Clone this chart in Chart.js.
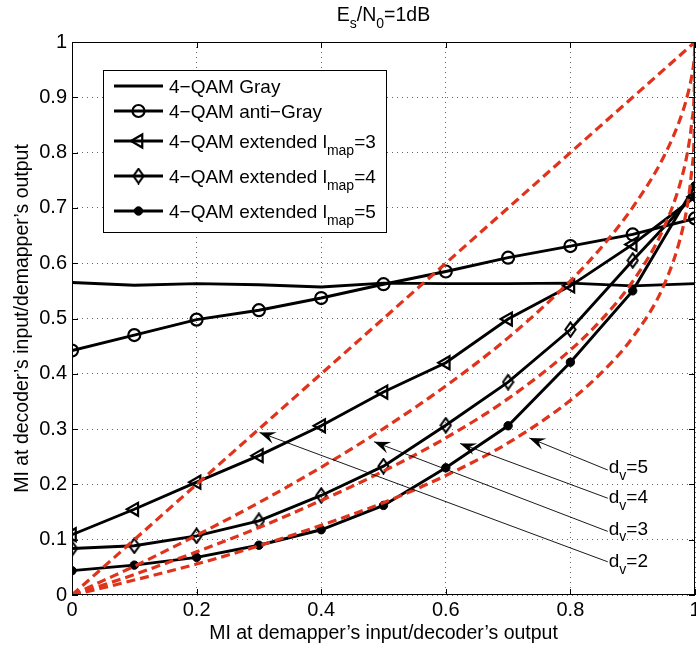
<!DOCTYPE html>
<html>
<head>
<meta charset="utf-8">
<title>EXIT chart, Es/N0 = 1 dB</title>
<script src="https://cdn.jsdelivr.net/npm/chart.js@4.4.1/dist/chart.umd.min.js"></script>
<style>
  html, body { margin: 0; padding: 0; background: #fff; }
  #box { width: 696px; height: 648px; }
</style>
</head>
<body>
<div id="box"><canvas id="exit" width="696" height="648"></canvas></div>
<script>
// Mutual information at the demapper input / decoder output (x axis)
const miApriori = [0, 0.1, 0.2, 0.3, 0.4, 0.5, 0.6, 0.7, 0.8, 0.9, 1.0];

// Demapper EXIT curves for the 4-QAM labelings
const qamGray     = [0.565, 0.560, 0.563, 0.561, 0.557, 0.564, 0.563, 0.563, 0.564, 0.559, 0.563];
const qamAntiGray = [0.442, 0.470, 0.498, 0.515, 0.537, 0.562, 0.585, 0.610, 0.631, 0.652, 0.681];
const qamExt3     = [0.109, 0.155, 0.204, 0.252, 0.306, 0.367, 0.420, 0.499, 0.559, 0.634, 0.720];
const qamExt4     = [0.084, 0.089, 0.107, 0.134, 0.180, 0.233, 0.307, 0.385, 0.480, 0.605, 0.725];
const qamExt5     = [0.044, 0.054, 0.068, 0.090, 0.118, 0.162, 0.230, 0.306, 0.421, 0.550, 0.740];

// Inverted variable-node decoder curves (degree d_v)
const vndX   = [0, 0.05, 0.1, 0.2, 0.3, 0.4, 0.5, 0.6, 0.7, 0.8, 0.85, 0.9, 0.95, 0.98, 0.99, 0.995, 0.999, 1];
const vndDv2 = [0, 0.05, 0.1, 0.2, 0.3, 0.4, 0.5, 0.6, 0.7, 0.8, 0.85, 0.9, 0.95, 0.98, 0.99, 0.995, 0.999, 1];
const vndDv3 = [0, 0.026, 0.052, 0.108, 0.167, 0.231, 0.301, 0.378, 0.465, 0.568, 0.629, 0.701, 0.793, 0.873, 0.913, 0.940, 0.975, 1];
const vndDv4 = [0, 0.018, 0.037, 0.078, 0.122, 0.171, 0.224, 0.284, 0.355, 0.443, 0.498, 0.567, 0.664, 0.760, 0.814, 0.857, 0.921, 1];
const vndDv5 = [0, 0.013, 0.027, 0.056, 0.089, 0.126, 0.167, 0.216, 0.275, 0.352, 0.402, 0.466, 0.560, 0.661, 0.721, 0.771, 0.856, 1];

// Tick values and their labels
const xTickValues = [0, 0.2, 0.4, 0.6, 0.8, 1];
const xTickLabels = ['0', '0.2', '0.4', '0.6', '0.8', '1'];
const yTickValues = [0, 0.1, 0.2, 0.3, 0.4, 0.5, 0.6, 0.7, 0.8, 0.9, 1];
const yTickLabels = ['0', '0.1', '0.2', '0.3', '0.4', '0.5', '0.6', '0.7', '0.8', '0.9', '1'];

// Legend entries: [main text, subscript, tail]
const legendEntries = [
  ['4\u2212QAM Gray', '', ''],
  ['4\u2212QAM anti\u2212Gray', '', ''],
  ['4\u2212QAM extended l', 'map', '=3'],
  ['4\u2212QAM extended l', 'map', '=4'],
  ['4\u2212QAM extended l', 'map', '=5']
];

// Annotations pointing at the decoder curves
const dvValues   = ['2', '3', '4', '5'];
const dvTipX     = [0.301, 0.485, 0.623, 0.734];
const dvTipY     = [0.294, 0.277, 0.274, 0.284];
const dvTailX    = [0.860, 0.860, 0.860, 0.860];
const dvTailY    = [0.060, 0.115, 0.175, 0.226];
const dvLabelY   = [0.063, 0.121, 0.178, 0.232];

const FONT = '"Liberation Sans", Arial, Helvetica, sans-serif';
const RED = '#e0331b';
const TICK_SIZE = 20;

function pts(xs, ys) { return xs.map((x, i) => ({ x, y: ys[i] })); }

// narrow diamond marker
function diamondMarker() {
  const c = document.createElement('canvas');
  c.width = 13; c.height = 17;
  const g = c.getContext('2d');
  g.strokeStyle = '#000'; g.lineWidth = 2;
  g.beginPath();
  g.moveTo(6.5, 1.3); g.lineTo(11.6, 8.5); g.lineTo(6.5, 15.7); g.lineTo(1.4, 8.5); g.closePath();
  g.stroke();
  return c;
}
const diamond = diamondMarker();

const curveStyle = (data) => ({
  data, showLine: true, borderColor: '#000', borderWidth: 2.9,
  pointBorderColor: '#000', pointBackgroundColor: 'rgba(0,0,0,0)', pointBorderWidth: 2.2,
  order: 2
});
const vndStyle = (data) => ({
  data, showLine: true, borderColor: RED, borderWidth: 3.2, borderDash: [9, 5],
  pointRadius: 0, cubicInterpolationMode: 'monotone', order: 1
});

const datasets = [
  Object.assign(curveStyle(pts(miApriori, qamGray)), { label: legendEntries[0][0], pointRadius: 0 }),
  Object.assign(curveStyle(pts(miApriori, qamAntiGray)), { label: legendEntries[1][0], pointStyle: 'circle', pointRadius: 6 }),
  Object.assign(curveStyle(pts(miApriori, qamExt3)), { label: 'ext3', pointStyle: 'triangle', pointRotation: -90, pointRadius: 7.5 }),
  Object.assign(curveStyle(pts(miApriori, qamExt4)), { label: 'ext4', pointStyle: diamond, pointRadius: 7 }),
  Object.assign(curveStyle(pts(miApriori, qamExt5)), { label: 'ext5', pointStyle: 'circle', pointRadius: 4.2, pointBackgroundColor: '#000', pointBorderWidth: 1 }),
  Object.assign(vndStyle(pts(vndX, vndDv2)), { label: 'dv2' }),
  Object.assign(vndStyle(pts(vndX, vndDv3)), { label: 'dv3' }),
  Object.assign(vndStyle(pts(vndX, vndDv4)), { label: 'dv4' }),
  Object.assign(vndStyle(pts(vndX, vndDv5)), { label: 'dv5' })
];

// text with subscripts: parts = [[text, isSub], ...]
function drawRich(ctx, parts, x, y, size, align) {
  const subSize = Math.round(size * 0.72);
  const widths = parts.map(([t, s]) => { ctx.font = (s ? subSize : size) + 'px ' + FONT; return ctx.measureText(t).width; });
  const total = widths.reduce((a, b) => a + b, 0);
  let cx = align === 'center' ? x - total / 2 : x;
  ctx.textAlign = 'left';
  ctx.textBaseline = 'alphabetic';
  parts.forEach(([t, s], i) => {
    ctx.font = (s ? subSize : size) + 'px ' + FONT;
    ctx.fillText(t, cx, y + (s ? size * 0.36 : 0));
    cx += widths[i];
  });
  return total;
}

function drawArrow(ctx, x1, y1, x2, y2) {
  ctx.beginPath();
  ctx.moveTo(x1, y1); ctx.lineTo(x2, y2);
  ctx.lineWidth = 0.9; ctx.stroke();
  const a = Math.atan2(y2 - y1, x2 - x1);
  const ux = Math.cos(a), uy = Math.sin(a);
  const L = 16, W = 6, N = 10;
  const bx = x2 - ux * L, by = y2 - uy * L;
  ctx.beginPath();
  ctx.moveTo(x2, y2);
  ctx.lineTo(bx - uy * W, by + ux * W);
  ctx.lineTo(x2 - ux * N, y2 - uy * N);
  ctx.lineTo(bx + uy * W, by - ux * W);
  ctx.closePath();
  ctx.fill();
}

const decorations = {
  id: 'decorations',
  beforeDraw(chart) {
    const ctx = chart.ctx;
    ctx.save(); ctx.fillStyle = '#fff'; ctx.fillRect(0, 0, chart.width, chart.height); ctx.restore();
  },
  afterDraw(chart) {
    const { ctx, chartArea: a, scales: { x, y } } = chart;
    ctx.save();
    ctx.strokeStyle = '#000'; ctx.fillStyle = '#000';

    // axes box and inward tick marks
    ctx.lineWidth = 1;
    ctx.strokeRect(a.left + 0.5, a.top + 0.5, a.right - a.left - 1, a.bottom - a.top - 1);
    ctx.beginPath();
    xTickValues.forEach(v => {
      const px = Math.round(x.getPixelForValue(v)) + 0.5;
      ctx.moveTo(px, a.bottom); ctx.lineTo(px, a.bottom - 6);
      ctx.moveTo(px, a.top); ctx.lineTo(px, a.top + 6);
    });
    yTickValues.forEach(v => {
      const py = Math.round(y.getPixelForValue(v)) + 0.5;
      ctx.moveTo(a.left, py); ctx.lineTo(a.left + 6, py);
      ctx.moveTo(a.right, py); ctx.lineTo(a.right - 6, py);
    });
    ctx.stroke();

    // x tick labels, centred under their ticks (the last one runs off the edge)
    ctx.font = TICK_SIZE + 'px ' + FONT;
    ctx.textAlign = 'center';
    ctx.textBaseline = 'top';
    xTickValues.forEach((v, i) => ctx.fillText(xTickLabels[i], x.getPixelForValue(v), a.bottom + 5));

    // title
    const cx = (a.left + a.right) / 2;
    drawRich(ctx, [['E', 0], ['s', 1], ['/N', 0], ['0', 1], ['=1dB', 0]], cx, 21, 19.5, 'center');

    // axis titles
    drawRich(ctx, [['MI at demapper\u2019s input/decoder\u2019s output', 0]], cx, 639, 19.5, 'center');
    ctx.save();
    ctx.translate(28, (a.top + a.bottom) / 2);
    ctx.rotate(-Math.PI / 2);
    drawRich(ctx, [['MI at decoder\u2019s input/demapper\u2019s output', 0]], 0, 0, 19.5, 'center');
    ctx.restore();

    // decoder-degree annotations
    dvValues.forEach((dv, i) => {
      const tx = x.getPixelForValue(dvTailX[i]), ty = y.getPixelForValue(dvTailY[i]);
      drawArrow(ctx, tx, ty, x.getPixelForValue(dvTipX[i]), y.getPixelForValue(dvTipY[i]));
      const ly = y.getPixelForValue(dvLabelY[i]) + 6.5;
      drawRich(ctx, [['d', 0], ['v', 1], ['=' + dv, 0]], tx + 1, ly, 19, 'left');
    });

    // legend
    const L = { left: 103, top: 70, right: 386, bottom: 232 };
    ctx.fillStyle = '#fff';
    ctx.fillRect(L.left, L.top, L.right - L.left, L.bottom - L.top);
    ctx.lineWidth = 1; ctx.strokeStyle = '#000';
    ctx.strokeRect(L.left + 0.5, L.top + 0.5, L.right - L.left, L.bottom - L.top);
    const rowY = [86, 111, 141, 176, 211];
    legendEntries.forEach((e, i) => {
      const ds = datasets[i];
      const yy = rowY[i];
      ctx.strokeStyle = '#000'; ctx.lineWidth = ds.borderWidth;
      ctx.beginPath(); ctx.moveTo(114, yy); ctx.lineTo(163, yy); ctx.stroke();
      if (ds.pointRadius > 0) {
        ctx.fillStyle = ds.pointBackgroundColor;
        ctx.lineWidth = ds.pointBorderWidth;
        Chart.helpers.drawPoint(ctx, {
          pointStyle: ds.pointStyle, radius: ds.pointRadius,
          rotation: ds.pointRotation || 0, borderWidth: ds.pointBorderWidth
        }, 138.5, yy);
      }
      ctx.fillStyle = '#000';
      const parts = [[e[0], 0]];
      if (e[1]) parts.push([e[1], 1]);
      if (e[2]) parts.push([e[2], 0]);
      drawRich(ctx, parts, 169, yy + 7, 19, 'left');
    });
    ctx.restore();
  }
};

new Chart(document.getElementById('exit'), {
  type: 'scatter',
  data: { datasets },
  options: {
    responsive: false,
    animation: false,
    devicePixelRatio: 1,
    layout: { autoPadding: false, padding: { top: 42, right: 1, left: 0, bottom: 0 } },
    plugins: { legend: { display: false }, tooltip: { enabled: false } },
    elements: { line: { tension: 0 } },
    scales: {
      x: {
        type: 'linear', min: 0, max: 1,
        afterFit(s) { s.height = 53; },
        afterBuildTicks(s) { s.ticks = xTickValues.map(v => ({ value: v })); },
        grid: { color: 'rgba(0,0,0,0.6)', lineWidth: 1, drawTicks: false },
        border: { display: false, dash: [1, 4] },
        ticks: { display: false }
      },
      y: {
        type: 'linear', min: 0, max: 1,
        afterFit(s) { s.width = 72; },
        afterBuildTicks(s) { s.ticks = yTickValues.map(v => ({ value: v })); },
        grid: { color: 'rgba(0,0,0,0.6)', lineWidth: 1, drawTicks: false },
        border: { display: false, dash: [1, 4] },
        ticks: {
          color: '#000', font: { family: FONT, size: TICK_SIZE }, padding: 5, autoSkip: false,
          callback: (v, i) => yTickLabels[i]
        }
      }
    }
  },
  plugins: [decorations]
});
</script>
</body>
</html>
